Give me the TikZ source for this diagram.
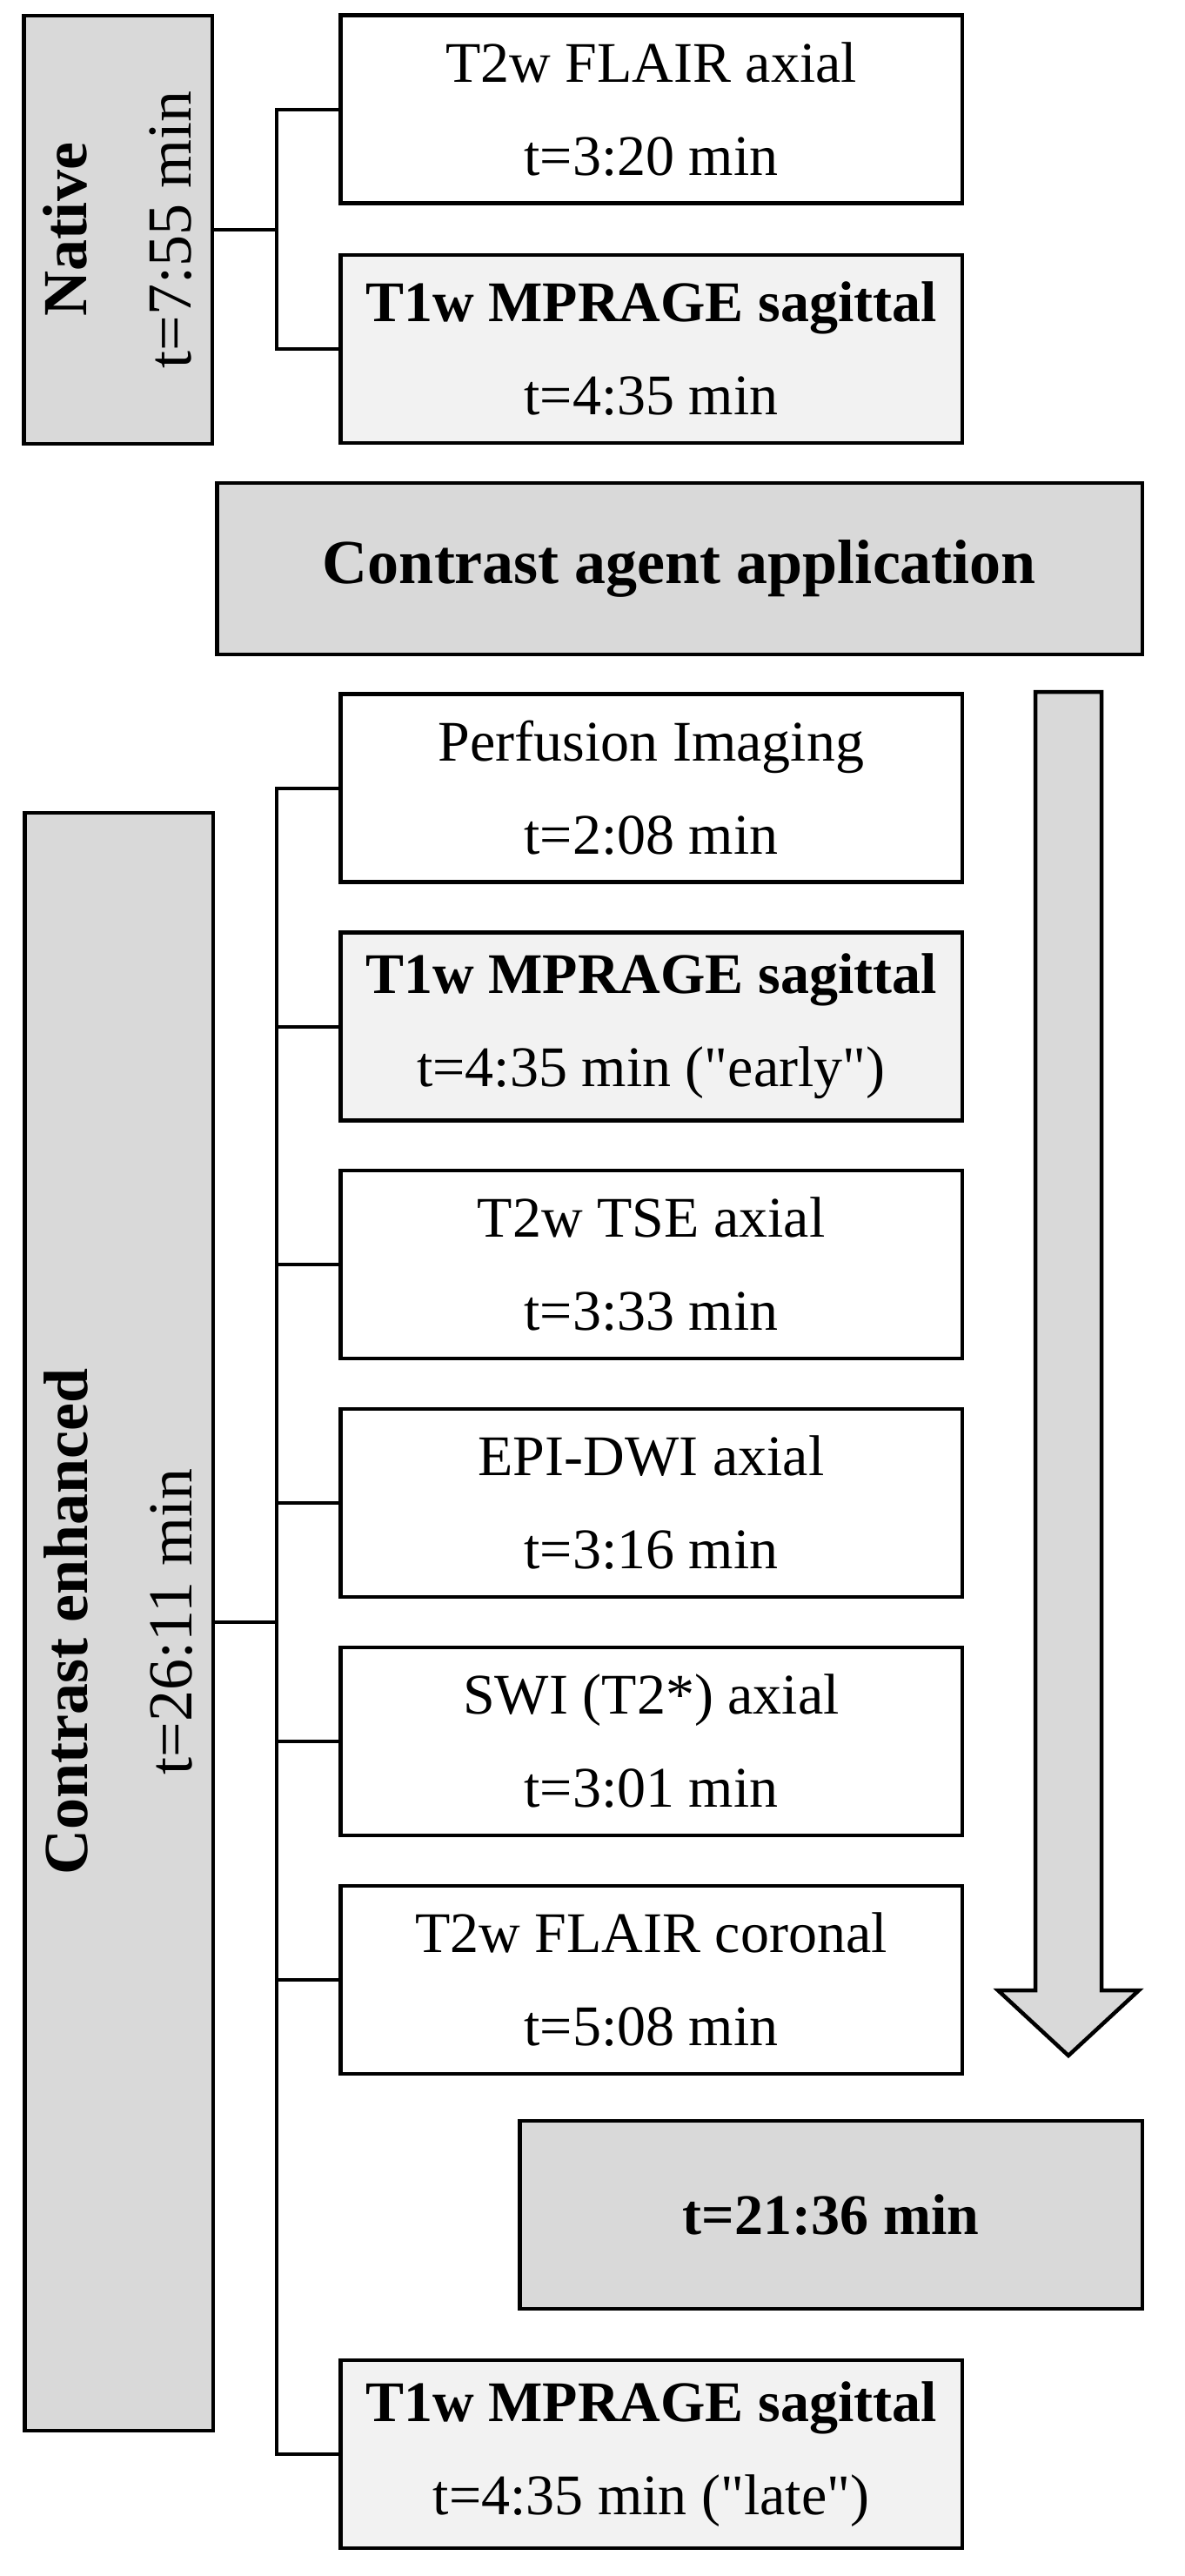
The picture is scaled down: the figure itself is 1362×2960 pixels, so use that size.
\documentclass[tikz,border=0pt]{standalone}
\usepackage{fontspec}
\newfontfamily\lsf{Liberation Serif}
\definecolor{darkfill}{HTML}{D9D9D9}
\definecolor{lightfill}{HTML}{F2F2F2}
\begin{document}
\begin{tikzpicture}[x=1pt,y=-1pt,
  seqbox/.style={draw=black,line width=4.5pt,fill=white,align=center,inner sep=0pt,
    minimum width=714.5pt,minimum height=216pt,font=\lsf\fontsize{66}{107}\selectfont},
  mprbox/.style={seqbox,fill=lightfill},
  grpbox/.style={draw=black,line width=4.5pt,fill=darkfill,inner sep=0pt,align=center},
  grptext/.style={rotate=90,align=center,inner sep=0pt,font=\lsf\fontsize{72}{120}\selectfont},
  conn/.style={line width=4pt},
  bigarrow/.style={draw=black,line width=4.5pt,fill=darkfill,line join=miter}]
\useasboundingbox (0,0) rectangle (1362,2960);

% Native group
\node[grpbox,minimum width=216.5pt,minimum height=491.5pt] (native) at (135.5,264) {};
\node[grptext] (nativetxt) at (native.center) {\textbf{Native}\\t=7:55 min};
\node[seqbox] (nflair) at (748.5,125.5) {T2w FLAIR axial\\t=3:20 min};
\node[mprbox] (nmpr) at (748.5,401) {\textbf{T1w MPRAGE sagittal}\\t=4:35 min};
\coordinate (nb) at (318,264);
\draw[conn] (native.east) -- (nb);
\draw[conn] (nflair.west) -| (nb);
\draw[conn] (nmpr.west) -| (nb);

% Contrast agent application
\node[grpbox,minimum width=1063.5pt,minimum height=197pt,font=\lsf\fontsize{72}{80}\selectfont]
  (agent) at (781,653.5) {\textbf{Contrast agent application}};

% Contrast enhanced group
\node[grpbox,minimum width=216.5pt,minimum height=1859pt] (ce) at (136.5,1863.5) {};
\node[grptext] (cetxt) at (ce.center) {\textbf{Contrast enhanced}\\t=26:11 min};
\node[seqbox] (perf) at (748.5,905.5) {Perfusion Imaging\\t=2:08 min};
\node[mprbox] (early) at (748.5,1179.5) {\textbf{T1w MPRAGE sagittal}\\t=4:35 min ("early")};
\node[seqbox] (tse) at (748.5,1453) {T2w TSE axial\\t=3:33 min};
\node[seqbox] (dwi) at (748.5,1727) {EPI-DWI axial\\t=3:16 min};
\node[seqbox] (swi) at (748.5,2001) {SWI (T2*) axial\\t=3:01 min};
\node[seqbox] (cflair) at (748.5,2275) {T2w FLAIR coronal\\t=5:08 min};
\node[grpbox,minimum width=715.5pt,minimum height=216pt,font=\lsf\fontsize{66}{107}\selectfont]
  (total) at (955,2545) {\textbf{t=21:36 min}};
\node[mprbox] (late) at (748.5,2820) {\textbf{T1w MPRAGE sagittal}\\t=4:35 min ("late")};

\coordinate (cb) at (318,1863.5);
\draw[conn] (ce.east) -- (cb);
\foreach \n in {perf,early,tse,dwi,swi,cflair,late}
  \draw[conn] (\n.west) -| (cb);

% Big downward arrow
\draw[bigarrow] (1190,795) -- (1266,795) -- (1266,2287) -- (1309,2287)
  -- (1228,2362) -- (1147,2287) -- (1190,2287) -- cycle;
\end{tikzpicture}
\end{document}
